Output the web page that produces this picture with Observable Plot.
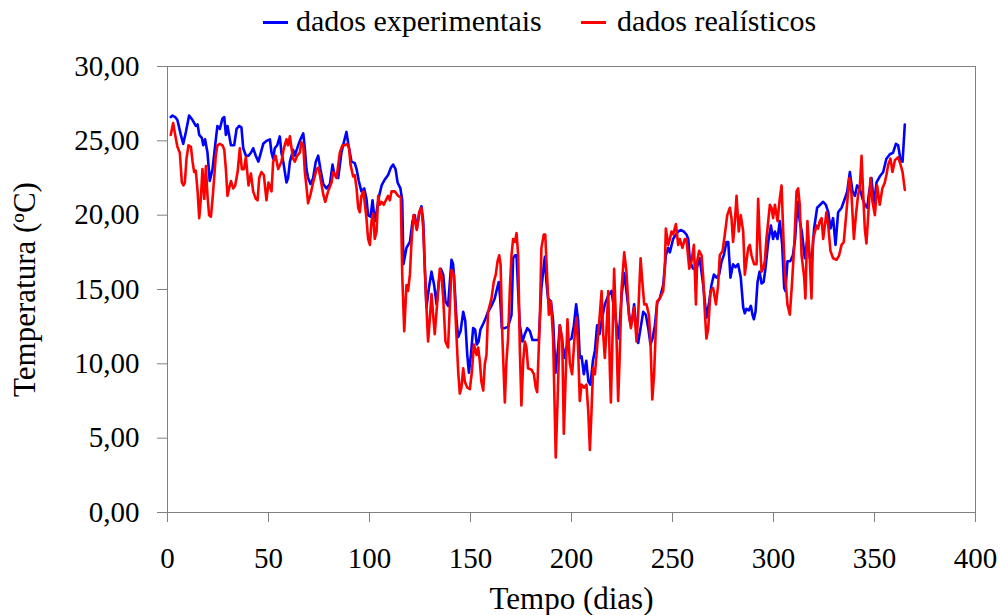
<!DOCTYPE html>
<html><head><meta charset="utf-8">
<script src="https://cdn.jsdelivr.net/npm/d3@7"></script>
<script src="https://cdn.jsdelivr.net/npm/@observablehq/plot@0.6"></script>
<style>
body{margin:0;background:#fff;font-family:"Liberation Serif","Times New Roman",serif;}
#legend{position:relative;height:45px;width:1000px;}
.sw{position:absolute;height:3px;top:21px;width:25px}
.lt{position:absolute;top:6px;font-size:30px;line-height:30px;color:#000;white-space:nowrap}
</style></head><body>
<div id="legend"></div>
<div id="chart"></div>
<script>
const seriesNames = ["dados experimentais", "dados realísticos"];
const seriesColors = ["#0000ff", "#ff0000"];
const xTicks = [0, 50, 100, 150, 200, 250, 300, 350, 400];
const yTicks = [0, 5, 10, 15, 20, 25, 30];
const xLabel = "Tempo (dias)";
const yLabel = "Temperatura (ºC)";

const expDays = [1.6,2.5,3.8,4.9,6.6,7.8,9.1,10.7,12.4,14.0,14.9,15.7,17.0,17.7,18.6,19.8,20.9,22.3,23.6,24.7,25.9,27.2,28.1,28.9,29.7,31.4,33.0,34.2,35.5,36.6,37.5,38.8,40.1,41.3,42.4,43.7,45.0,47.4,49.0,50.7,51.5,52.3,53.1,54.3,55.6,56.4,57.3,58.1,58.9,59.7,60.6,62.2,63.0,64.7,65.8,67.2,68.0,68.8,69.6,70.8,72.1,73.4,74.6,75.7,77.1,78.7,80.4,81.7,82.5,84.5,86.1,87.3,88.6,89.6,91.1,92.7,93.6,94.7,96.0,97.4,98.5,99.3,100.5,101.5,102.6,103.6,104.6,106.0,107.6,109.2,110.6,111.7,112.9,113.9,115.3,116.2,116.8,118.3,120.0,121.3,122.4,123.4,124.6,125.7,126.6,127.4,128.2,129.4,130.7,132.0,133.2,134.3,135.3,136.5,137.6,138.9,140.6,141.4,142.2,143.1,143.9,145.1,146.4,147.4,148.4,149.2,150.2,151.3,152.3,153.1,154.0,154.9,156.3,157.6,158.7,160.4,162.0,163.2,164.0,164.7,165.5,167.0,168.6,170.3,171.1,172.0,172.8,173.6,174.4,175.7,176.9,178.1,179.4,180.7,182.3,183.8,185.1,186.3,186.8,187.6,188.4,189.8,190.9,192.1,193.4,194.2,195.4,196.4,197.5,198.7,200.0,201.2,202.3,203.3,204.1,205.0,206.1,207.3,208.4,209.4,210.6,211.6,212.7,213.9,214.9,216.5,218.2,219.8,221.5,223.4,224.8,226.1,227.2,228.9,230.0,231.0,232.2,233.0,234.2,235.5,236.8,238.0,239.1,240.1,241.3,242.4,243.7,245.4,246.7,247.9,248.7,250.3,251.7,252.8,254.0,255.6,256.9,257.8,258.6,260.2,261.9,263.5,265.2,266.8,268.2,269.3,270.5,271.8,273.1,274.3,275.4,276.7,277.6,278.7,280.0,281.2,282.5,283.8,285.0,285.8,286.6,287.8,288.8,289.6,290.3,291.1,292.1,293.1,294.1,295.1,296.0,297.4,298.7,299.8,300.7,302.0,303.1,304.3,305.3,305.9,306.9,308.3,309.6,310.7,311.9,313.0,314.0,315.5,316.8,318.0,319.0,320.1,321.6,323.1,324.6,325.9,327.1,328.2,329.5,330.7,332.0,333.7,335.3,336.5,337.8,339.1,340.3,341.4,342.7,344.1,345.2,346.4,347.4,348.5,349.7,351.0,352.6,354.3,355.9,357.6,359.2,360.6,361.7,362.9,363.9,365.0];
const expTemp = [26.6,26.7,26.6,26.4,25.4,24.8,25.6,26.7,26.4,26.0,26.1,25.4,25.2,24.7,25.1,24.2,22.3,23.1,24.7,26.0,25.8,26.5,26.6,25.4,26.0,24.7,24.7,25.8,26.0,25.9,24.5,24.0,24.0,24.2,24.5,24.0,23.6,24.8,25.0,25.1,24.2,23.8,24.5,24.7,25.3,24.2,23.6,22.9,22.2,22.5,23.6,24.4,24.0,24.7,25.1,25.5,24.5,23.1,22.5,22.1,22.5,23.6,24.0,23.1,22.1,21.8,22.1,23.4,22.8,22.5,24.2,24.9,25.6,24.7,23.6,23.5,23.1,22.3,21.6,21.8,21.1,20.0,19.9,21.0,19.6,20.3,21.2,22.0,22.4,22.7,23.2,23.4,23.1,22.2,21.8,21.0,16.7,17.8,18.2,19.6,20.0,19.1,20.1,20.6,19.6,16.4,13.8,15.1,16.2,15.3,14.0,15.5,16.4,16.0,14.2,13.9,17.0,16.7,15.1,12.9,11.8,12.2,13.5,12.9,10.6,9.4,10.6,12.4,12.3,11.3,11.5,12.3,12.7,13.1,13.5,13.9,14.4,15.1,15.5,14.4,12.4,12.4,12.5,13.3,17.1,17.3,17.3,14.9,12.6,11.5,12.0,12.4,12.2,11.6,11.6,11.6,15.1,16.6,17.2,15.5,14.4,14.2,12.9,9.4,11.1,12.6,11.5,10.4,11.1,11.6,11.7,12.6,14.0,12.9,10.4,10.5,9.3,10.2,8.8,8.6,10.2,10.9,12.6,12.0,12.9,14.0,14.6,14.9,13.3,11.7,14.6,16.1,14.9,12.9,12.9,14.0,12.2,11.4,12.4,13.5,13.3,12.4,11.3,11.7,12.6,14.1,14.4,15.3,17.3,17.8,17.5,18.4,18.7,18.9,19.0,18.9,18.7,18.4,16.9,16.4,16.4,17.1,15.3,13.1,14.2,15.3,16.0,15.8,16.0,16.9,17.3,18.2,18.2,15.8,16.7,16.5,16.7,15.8,13.8,13.4,13.7,13.6,13.9,13.3,13.0,13.5,15.5,16.2,15.4,15.5,16.4,18.2,19.3,18.4,18.9,18.4,19.6,18.0,15.1,14.9,16.9,16.9,17.3,18.4,20.9,19.6,18.9,17.1,18.4,17.1,17.1,19.1,20.5,20.7,20.9,20.7,20.2,19.1,19.8,18.0,20.2,20.5,21.1,21.6,22.9,21.6,21.3,22.0,21.8,21.1,20.7,20.5,21.6,22.5,20.7,22.2,22.6,22.9,23.8,24.1,24.2,24.8,24.7,23.7,23.6,26.1];

const realDays = [1.6,2.8,3.8,4.9,6.1,7.1,7.9,8.6,9.4,10.4,11.6,12.4,13.2,14.0,14.9,15.7,16.5,17.3,18.2,19.0,19.8,20.6,21.5,22.3,23.1,23.9,24.7,25.9,27.2,28.1,28.9,29.7,30.5,31.4,32.5,33.5,34.7,35.8,36.8,37.9,38.8,40.1,41.3,42.4,43.7,44.6,45.4,46.5,47.7,49.0,50.0,51.5,52.3,53.5,54.8,56.4,57.6,58.9,59.7,60.6,61.4,62.2,63.0,64.2,65.5,66.3,67.2,68.0,68.8,69.6,70.8,72.1,73.8,74.8,75.7,77.1,78.1,79.5,81.2,82.0,83.7,85.3,86.6,87.8,88.9,89.9,90.6,91.9,92.7,93.6,94.4,95.2,96.0,97.0,98.5,99.3,100.2,101.0,101.8,102.6,103.5,104.3,105.1,106.0,107.1,108.1,109.2,110.1,110.9,112.5,114.2,115.5,116.2,117.2,118.3,119.1,120.0,120.8,121.8,122.6,123.4,124.6,125.7,126.6,127.4,128.2,129.0,129.9,130.7,131.5,132.3,133.7,134.8,135.6,136.5,137.6,138.9,139.8,140.6,141.8,142.7,143.9,144.7,145.5,146.4,147.2,148.4,149.7,150.7,151.7,153.0,153.8,154.6,155.4,156.3,157.1,157.9,158.7,160.4,161.5,162.5,163.4,164.2,164.9,165.8,167.0,167.8,168.6,169.5,170.3,171.1,172.0,172.8,173.6,174.4,175.2,176.1,176.9,177.7,178.5,180.2,181.4,182.3,183.0,184.3,185.1,186.3,187.0,187.6,188.8,189.8,190.9,191.8,192.2,193.1,194.2,195.4,196.2,197.0,198.0,199.2,200.3,201.6,202.5,203.3,204.1,205.0,206.3,207.4,208.3,209.1,209.9,210.7,211.6,213.2,214.0,214.9,215.7,216.5,217.3,218.2,219.0,219.5,220.1,221.1,222.3,223.1,223.9,224.8,226.1,227.2,228.4,229.4,230.0,231.0,232.2,233.0,234.2,235.2,236.0,237.1,238.3,239.1,240.0,240.9,241.8,242.4,243.7,245.4,246.2,246.7,247.9,248.7,249.5,250.3,251.7,252.8,253.6,254.9,256.1,256.9,258.3,259.4,260.6,261.6,262.2,263.2,264.4,265.2,266.0,266.8,267.7,268.8,270.1,271.5,272.6,273.4,274.8,275.9,277.1,278.4,279.2,280.0,280.9,281.7,282.8,283.8,285.0,285.8,286.6,287.5,288.3,289.1,290.4,291.6,292.4,293.2,294.1,294.9,295.7,296.5,297.4,298.2,299.0,299.8,300.7,302.0,303.1,304.0,304.8,305.6,306.9,308.1,309.2,310.2,311.4,312.2,313.0,313.9,315.2,315.8,316.8,318.0,318.8,319.6,321.3,322.1,322.9,323.8,324.6,325.7,326.2,327.1,328.2,329.5,331.2,332.5,333.7,334.8,336.1,337.5,338.6,339.8,340.8,341.9,342.7,343.6,344.4,345.2,346.0,346.9,348.0,349.0,350.2,351.3,352.6,353.9,355.1,355.9,356.8,357.9,358.9,360.1,361.7,362.9,363.9,365.0];
const realTemp = [25.4,26.2,25.4,24.6,24.2,22.2,22.0,22.2,23.8,24.7,24.6,23.6,22.9,23.0,21.6,19.8,21.1,23.1,21.1,23.3,21.3,20.0,19.9,21.1,22.5,24.0,24.7,24.8,24.7,24.4,23.1,21.3,21.8,22.3,21.8,22.0,22.9,24.5,23.1,23.1,23.9,22.0,22.8,21.6,21.1,21.0,22.5,22.9,22.7,21.0,22.2,21.6,23.6,24.0,23.1,23.6,24.5,25.1,24.7,25.3,24.5,23.8,23.6,24.0,24.2,24.9,24.7,22.9,21.9,20.8,21.4,22.2,23.1,23.2,22.5,21.4,20.9,21.6,22.2,22.9,22.5,24.2,24.7,24.7,24.8,24.5,23.4,22.6,22.7,21.8,20.5,20.2,21.3,21.6,19.8,18.4,18.0,19.6,20.1,18.4,18.9,21.3,20.7,20.9,20.7,21.0,21.3,21.0,21.6,21.6,21.3,21.2,16.0,12.2,15.3,14.9,16.0,18.2,20.0,19.6,19.0,20.2,20.5,19.1,16.4,13.8,11.5,13.1,14.7,13.3,12.0,14.4,16.4,16.0,14.4,11.5,11.1,14.0,16.3,16.0,12.9,9.5,8.0,8.4,9.7,8.8,8.4,8.3,9.5,11.3,10.6,11.1,10.2,8.8,8.2,10.0,10.6,13.5,14.4,15.5,16.0,16.9,17.3,16.7,11.7,7.4,10.2,11.7,15.1,17.3,18.4,18.2,18.8,17.3,11.1,7.2,10.2,11.5,11.1,9.7,9.6,9.3,8.4,8.1,12.9,17.8,18.7,18.7,16.9,13.3,14.2,11.7,6.2,3.7,7.5,12.6,11.7,5.3,8.6,13.0,10.0,9.3,12.0,13.1,10.9,7.5,8.6,8.4,8.6,6.8,4.2,6.8,9.7,9.3,12.0,13.3,14.9,12.0,10.4,12.2,14.9,9.5,7.4,10.6,16.4,11.7,7.5,10.6,15.1,17.5,16.2,13.3,12.4,12.9,13.8,11.5,13.3,17.1,15.3,14.0,14.0,13.3,11.5,7.6,9.3,12.6,14.2,14.4,14.9,16.4,19.1,18.0,18.4,18.9,18.7,19.4,18.0,18.4,17.8,18.4,18.4,16.4,16.9,18.0,14.0,16.9,17.6,17.3,15.8,13.5,11.7,12.4,14.9,15.1,14.0,15.3,17.3,17.6,18.7,20.0,20.5,19.8,18.2,19.6,21.3,18.9,20.0,18.9,16.0,16.9,17.8,18.0,17.3,16.7,16.7,21.1,18.4,16.2,16.4,16.9,18.4,19.6,20.7,20.5,19.8,20.7,19.6,21.1,22.0,18.9,16.2,14.0,13.3,15.5,17.8,21.6,21.8,20.7,17.3,15.8,14.4,19.6,16.9,14.4,18.4,19.3,19.1,19.6,19.8,18.4,19.6,20.2,19.3,17.6,17.1,17.0,17.3,18.0,18.2,20.2,22.5,21.4,18.4,20.0,21.4,21.8,24.0,21.4,19.1,18.1,20.0,22.5,20.9,20.0,22.0,20.7,21.8,22.2,22.7,23.4,23.8,22.9,23.7,23.9,23.4,22.9,21.7];

// legend (HTML, above the SVG)
const legend = document.getElementById("legend");
const legendPos = [[263, 296], [581, 617]];
seriesNames.forEach((name, i) => {
  const sw = document.createElement("div");
  sw.className = "sw";
  sw.style.left = legendPos[i][0] + "px";
  sw.style.background = seriesColors[i];
  legend.appendChild(sw);
  const t = document.createElement("div");
  t.className = "lt";
  t.style.left = legendPos[i][1] + "px";
  t.textContent = name;
  legend.appendChild(t);
});

const expData = expDays.map((d, i) => ({day: d, temp: expTemp[i]}));
const realData = realDays.map((d, i) => ({day: d, temp: realTemp[i]}));

const chart = Plot.plot({
  width: 1000,
  height: 570,
  marginTop: 21,
  marginBottom: 103,
  marginLeft: 167,
  marginRight: 25,
  style: {fontFamily: '"Liberation Serif", "Times New Roman", serif', color: "#000", background: "#fff", overflow: "visible"},
  x: {domain: [0, 400]},
  y: {domain: [0, 30]},
  marks: [
    Plot.frame({stroke: "#808080"}),
    Plot.axisX({ticks: xTicks, tickSize: 10, tickPadding: 25, stroke: "#808080", fill: "#000", fontSize: 29, label: null, tickFormat: d => String(d)}),
    Plot.axisY({ticks: yTicks, tickSize: 10, tickPadding: 18, stroke: "#808080", fill: "#000", fontSize: 29, label: null, tickFormat: d => d.toFixed(2).replace(".", ",")}),
    Plot.lineY(expData, {x: "day", y: "temp", stroke: seriesColors[0], strokeWidth: 2.6}),
    Plot.lineY(realData, {x: "day", y: "temp", stroke: seriesColors[1], strokeWidth: 2.6}),
    Plot.text([xLabel], {text: d => d, frameAnchor: "bottom", textAnchor: "middle", lineAnchor: "middle", dy: 87, fontSize: 31, fill: "#000"}),
    Plot.text([yLabel], {text: d => d, frameAnchor: "left", textAnchor: "middle", lineAnchor: "middle", dx: -142, rotate: -90, fontSize: 31, fill: "#000"})
  ]
});
document.getElementById("chart").appendChild(chart);
</script>
</body></html>
